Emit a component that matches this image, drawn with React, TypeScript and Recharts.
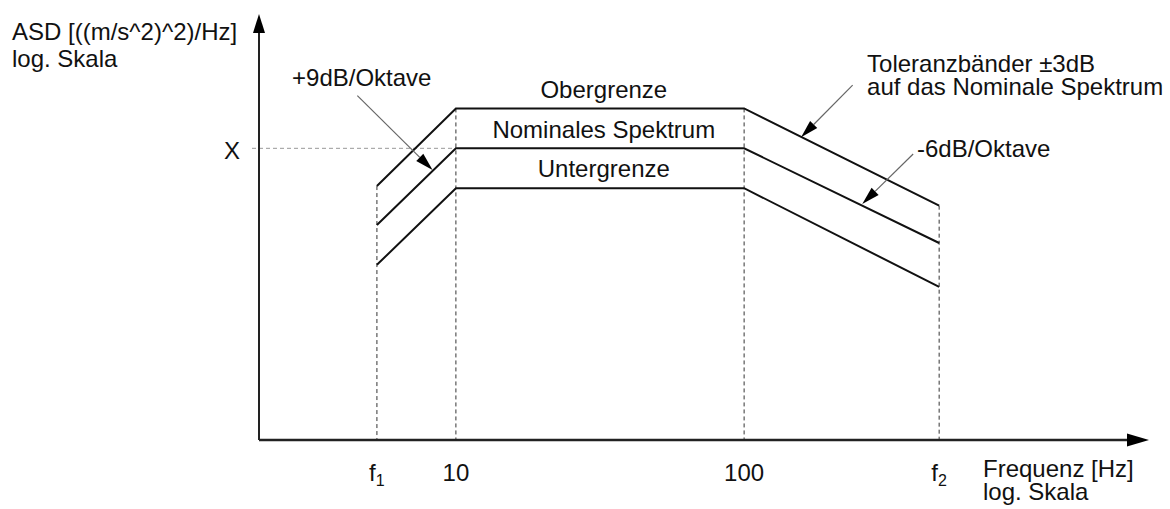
import React from "react";
import { LineChart, Line, XAxis, YAxis, ReferenceLine, ReferenceDot } from "recharts";

const FONT = '"Liberation Sans", Arial, Helvetica, sans-serif';
const INK = "#111";

// frequency break points (Hz); f1 and f2 are symbolic, placed where the sketch puts them
const F1 = 5.32;
const F2 = 475;
const freqs = [F1, 10, 100, F2];

// ASD relative to the nominal level X (log scale), ±3dB bands around nominal
const upper = [0.519, 2, 2, 0.369];
const nominal = [0.264, 1, 1, 0.193];
const lower = [0.132, 0.5, 0.5, 0.09];

const xTicks = [F1, 10, 100, F2];
const xTickMain = ["f", "10", "100", "f"];
const xTickSub = ["1", "", "", "2"];

const X_DOMAIN = [2.074, 2540];
const Y_DOMAIN = [0.00629, 10.32];
const X_LEVEL = 1;

// annotation texts, anchored in data space (x = Hz, y = ASD at baseline)
const noteText = [
  "+9dB/Oktave",
  "Obergrenze",
  "Nominales Spektrum",
  "Untergrenze",
  "Toleranzbänder ±3dB",
  "auf das Nominale Spektrum",
  "-6dB/Oktave",
];
const noteX = [2.7, 32.6, 32.6, 32.6, 267, 267, 398];
const noteY = [2.95, 2.4, 1.196, 0.607, 3.765, 2.525, 0.86];
const noteAnchor = ["start", "middle", "middle", "middle", "start", "start", "start"];

// pointer arrows: from (text side) -> to (line)
const arrowFrom = [[4.55, 2.5], [238, 3.0], [386, 0.906]];
const arrowTo = [[8.3, 0.686], [157.6, 1.21], [257, 0.38]];

const data = freqs.map((f, i) => ({ f, upper: upper[i], nominal: nominal[i], lower: lower[i] }));

const arrowShape = (color: string, width: number, headLen: number, headHalf: number) => (p: any) => {
  const x1 = Number(p.x1), y1 = Number(p.y1), x2 = Number(p.x2), y2 = Number(p.y2);
  const dx = x2 - x1, dy = y2 - y1;
  const len = Math.hypot(dx, dy) || 1;
  const ux = dx / len, uy = dy / len;
  const bx = x2 - ux * headLen, by = y2 - uy * headLen;
  const px = -uy * headHalf, py = ux * headHalf;
  return (
    <g>
      <line x1={x1} y1={y1} x2={bx} y2={by} stroke={color} strokeWidth={width} />
      <polygon points={`${x2},${y2} ${bx + px},${by + py} ${bx - px},${by - py}`} fill="#000" />
    </g>
  );
};

const XTick = (props: any) => {
  const { x, y, payload } = props;
  const i = xTicks.indexOf(payload.value);
  return (
    <text x={x} y={y + 41} textAnchor="middle" fontSize={24} fontFamily={FONT} fill={INK}>
      {xTickMain[i]}
      {xTickSub[i] ? <tspan dy={5} fontSize={16}>{xTickSub[i]}</tspan> : null}
    </text>
  );
};

const YTick = (props: any) => {
  const { x, y } = props;
  return (
    <text x={x} y={y + 11} textAnchor="end" fontSize={24} fontFamily={FONT} fill={INK}>
      X
    </text>
  );
};

const noteShape = (i: number) => (p: any) => (
  <text x={p.cx} y={p.cy} textAnchor={noteAnchor[i] as any} fontSize={24} fontFamily={FONT} fill={INK}>
    {noteText[i]}
  </text>
);

export default function App() {
  return (
    <div style={{ position: "absolute", left: 0, top: 0, width: 1170, height: 509, background: "#fff" }}>
      <LineChart width={1170} height={509} data={data} margin={{ top: 14, right: 21, bottom: 39, left: 199 }}>
        <XAxis
          dataKey="f"
          type="number"
          scale="log"
          domain={X_DOMAIN}
          allowDataOverflow
          ticks={xTicks}
          tick={<XTick />}
          tickLine={false}
          tickSize={0}
          tickMargin={0}
          axisLine={false}
          height={30}
        />
        <YAxis
          type="number"
          scale="log"
          domain={Y_DOMAIN}
          allowDataOverflow
          ticks={[X_LEVEL]}
          tick={<YTick />}
          tickLine={{ stroke: "#999", strokeDasharray: "4 3" }}
          tickSize={7}
          tickMargin={12}
          axisLine={false}
          width={60}
        />

        {/* reference level X */}
        <ReferenceLine
          segment={[{ x: X_DOMAIN[0], y: X_LEVEL }, { x: 10, y: X_LEVEL }]}
          stroke="#999"
          strokeDasharray="4 3"
          ifOverflow="visible"
        />
        {/* drop lines from the upper band to the frequency axis */}
        {freqs.map((f, i) => (
          <ReferenceLine
            key={"drop" + i}
            segment={[{ x: f, y: upper[i] }, { x: f, y: Y_DOMAIN[0] }]}
            stroke="#333"
            strokeDasharray="4 3"
            ifOverflow="visible"
          />
        ))}

        <Line dataKey="upper" type="linear" stroke={INK} strokeWidth={2} dot={false} isAnimationActive={false} />
        <Line dataKey="nominal" type="linear" stroke={INK} strokeWidth={2} dot={false} isAnimationActive={false} />
        <Line dataKey="lower" type="linear" stroke={INK} strokeWidth={2} dot={false} isAnimationActive={false} />

        {/* axes with arrow heads */}
        <ReferenceLine
          segment={[{ x: X_DOMAIN[0], y: Y_DOMAIN[0] }, { x: X_DOMAIN[1], y: Y_DOMAIN[0] }]}
          ifOverflow="visible"
          shape={arrowShape("#222", 2.5, 22, 6.5)}
        />
        <ReferenceLine
          segment={[{ x: X_DOMAIN[0], y: Y_DOMAIN[0] }, { x: X_DOMAIN[0], y: Y_DOMAIN[1] }]}
          ifOverflow="visible"
          shape={arrowShape("#222", 2, 19, 6)}
        />

        {arrowFrom.map((a, i) => (
          <ReferenceLine
            key={"arr" + i}
            segment={[{ x: a[0], y: a[1] }, { x: arrowTo[i][0], y: arrowTo[i][1] }]}
            ifOverflow="visible"
            shape={arrowShape("#666", 1.2, 18, 5)}
          />
        ))}

        {noteText.map((t, i) => (
          <ReferenceDot key={"note" + i} x={noteX[i]} y={noteY[i]} r={0} ifOverflow="visible" shape={noteShape(i)} />
        ))}
      </LineChart>

      <svg width={1170} height={509} style={{ position: "absolute", left: 0, top: 0, pointerEvents: "none" }}>
        <g fontFamily={FONT} fontSize={24} fill={INK}>
          <text x={12} y={40}>ASD [((m/s^2)^2)/Hz]</text>
          <text x={12} y={67}>log. Skala</text>
          <text x={983} y={477}>Frequenz [Hz]</text>
          <text x={983} y={500}>log. Skala</text>
        </g>
      </svg>
    </div>
  );
}
